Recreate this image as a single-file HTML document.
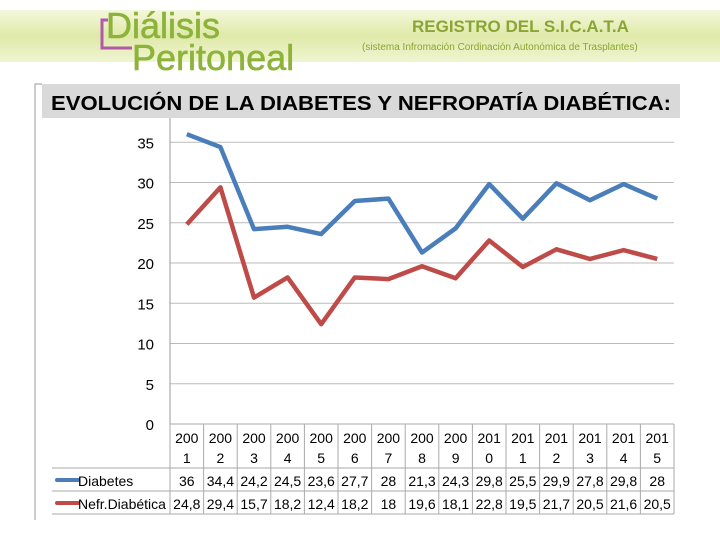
<!DOCTYPE html>
<html><head><meta charset="utf-8"><style>
body{margin:0;width:720px;height:540px;background:#fff;overflow:hidden;font-family:"Liberation Sans",sans-serif}
svg text{font-family:"Liberation Sans","DejaVu Sans",sans-serif}
</style></head><body>
<svg width="720" height="540" viewBox="0 0 720 540" xmlns="http://www.w3.org/2000/svg">
<defs><linearGradient id="hg" x1="0" y1="0" x2="0" y2="1"><stop offset="0" stop-color="#f4f8dc"/><stop offset="0.5" stop-color="#dfe9a8"/><stop offset="1" stop-color="#f0f5d2"/></linearGradient></defs>
<rect x="0" y="10" width="720" height="52" fill="url(#hg)"/>
<text x="106" y="38" font-size="36" fill="#8db33a" stroke="#8db33a" stroke-width="0.6">Diálisis</text>
<text x="132" y="70" font-size="36" fill="#8db33a" stroke="#8db33a" stroke-width="0.6">Peritoneal</text>
<path d="M108 20 h-6 v28 h30" fill="none" stroke="#b05aa8" stroke-width="3"/>
<text x="412" y="32" font-size="17" font-weight="bold" fill="#8aa535">REGISTRO DEL S.I.C.A.T.A</text>
<text x="362" y="50" font-size="10" fill="#8aa535">(sistema Infromación Cordinación Autonómica de Trasplantes)</text>
<path d="M35 520 V84 H42" fill="none" stroke="#999" stroke-width="1"/>
<rect x="42" y="84" width="638" height="34" fill="#d9d9d9"/>
<text x="51" y="110" font-size="20" font-weight="bold" textLength="620" lengthAdjust="spacingAndGlyphs" fill="#000">EVOLUCIÓN DE LA DIABETES Y NEFROPATÍA DIABÉTICA:</text>
<g id="grid"></g><g id="table"></g><g id="lines"></g>
</svg>
<script>
const years=["2001","2002","2003","2004","2005","2006","2007","2008","2009","2010","2011","2012","2013","2014","2015"];
const diabetes=[36,34.4,24.2,24.5,23.6,27.7,28,21.3,24.3,29.8,25.5,29.9,27.8,29.8,28];
const nefro=[24.8,29.4,15.7,18.2,12.4,18.2,18,19.6,18.1,22.8,19.5,21.7,20.5,21.6,20.5];
const yTicks=[0,5,10,15,20,25,30,35];
const seriesNames=["Diabetes","Nefr.Diabética"];
const NS="http://www.w3.org/2000/svg";
const L=170,R=674,Y0=424,PY=8.05,CW=(R-L)/years.length;
const x=i=>L+CW*(i+0.5), y=v=>Y0-v*PY;
function mk(t,a,p,txt){const e=document.createElementNS(NS,t);for(const k in a)e.setAttribute(k,a[k]);if(txt!==undefined)e.textContent=txt;p.appendChild(e);return e;}
const g=document.getElementById('grid'),tb=document.getElementById('table'),ln=document.getElementById('lines');
yTicks.forEach(v=>{
 const l=mk('line',{x1:L,x2:R,y1:y(v),y2:y(v),stroke:v===0?'#999':'#bbb','stroke-width':1},g);
 
 
 const t=mk('text',{x:154,y:y(v)+6,'text-anchor':'end','font-size':15,fill:'#000'},g,String(v));
 
 
});
const ax=mk('line',{x1:L,x2:L,y1:118,y2:514,stroke:'#999'},g);


[[Y0,R],[468,R],[491,R],[514,R]].forEach((r,k)=>{const e=mk('line',{x1:k===0?L:52,x2:r[1],y1:r[0],y2:r[0],stroke:'#aaa'},tb);
 
 });
for(let i=0;i<=years.length;i++){const e=mk('line',{x1:L+CW*i,x2:L+CW*i,y1:Y0,y2:514,stroke:'#aaa'},tb);
 
 }
years.forEach((yr,i)=>{
 const a=mk('text',{x:x(i),y:443,'text-anchor':'middle','font-size':14},tb,yr.slice(0,3));
 
 
 const b=mk('text',{x:x(i),y:463,'text-anchor':'middle','font-size':14},tb,yr.slice(3));
 
 
 [diabetes,nefro].forEach((s,k)=>{const t=mk('text',{x:x(i),y:486+k*23,'text-anchor':'middle','font-size':14},tb,String(s[i]).replace('.',','));
  
  });
});
const cols=['#4a7ebb','#be4b48'];
seriesNames.forEach((n,k)=>{
 const m=mk('line',{x1:57,x2:78,y1:480+k*23,y2:480+k*23,stroke:cols[k],'stroke-width':4,'stroke-linecap':'round'},tb);
 
 
 const t=mk('text',{x:78,y:486+k*23,'font-size':14},tb,n);
 
 
});
[diabetes,nefro].forEach((s,k)=>{
 const p=mk('polyline',{points:s.map((v,i)=>x(i)+','+y(v)).join(' '),fill:'none',stroke:cols[k],'stroke-width':4.5,'stroke-linejoin':'round'},ln);
 
 
});
</script>
</body></html>
